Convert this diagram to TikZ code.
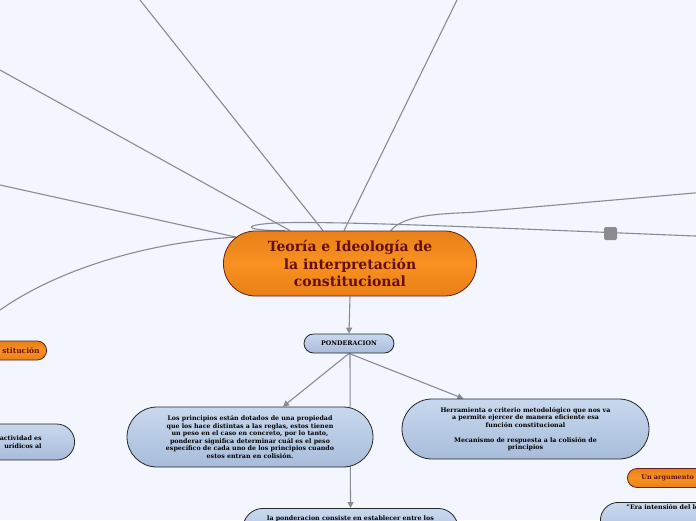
\documentclass[tikz,border=0pt]{standalone}
\usepackage{fontspec}
\setmainfont{DejaVu Serif}
\usetikzlibrary{arrows.meta,calc,backgrounds}
\definecolor{BackClr}{RGB}{243,246,254}
\definecolor{MainClr}{RGB}{248,145,32}
\definecolor{MainTop}{RGB}{232,128,24}
\definecolor{MainLine}{RGB}{105,28,28}
\definecolor{MainText}{RGB}{100,14,14}
\definecolor{LeafTop}{RGB}{200,216,238}
\definecolor{LeafBot}{RGB}{168,188,218}
\definecolor{LinkClr}{RGB}{138,138,146}
\definecolor{KnobClr}{RGB}{140,140,144}

\begin{document}
\begin{tikzpicture}[x=1pt,y=-1pt,
  link/.style={draw=LinkClr,line width=1.1pt},
  linkarrow/.style={link,-{Triangle[length=6pt,width=6pt]}},
  mainbox/.style={draw=MainLine,line width=0.8pt,rounded corners=32pt,
    top color=MainTop,bottom color=MainTop,middle color=MainClr,
    text=MainText,font=\bfseries\fontsize{14}{17.5}\selectfont,
    align=center,inner sep=0pt},
  topicbox/.style={draw=MainLine,line width=0.8pt,rounded corners=9.5pt,
    top color=MainTop,bottom color=MainTop,middle color=MainClr,
    text=MainText,font=\bfseries\fontsize{6.5}{7.5}\selectfont,
    inner sep=0pt,minimum height=19pt},
  leafbox/.style={draw=black!85,line width=0.8pt,
    top color=LeafTop,bottom color=LeafBot,
    font=\bfseries\fontsize{6.3}{7.5}\selectfont,align=center,inner sep=0pt}]

\useasboundingbox (0,0) rectangle (696,520);

% Central topic and its first child.
\node[mainbox,minimum width=253pt,minimum height=65pt] (main) at (350,263.5)
  {Teoría e Ideología de\\la interpretación\\constitucional};
\node[leafbox,rounded corners=9.5pt,minimum width=90pt,minimum height=19pt] (pond) at (349,343.5)
  {PONDERACION};

% Children of PONDERACION.
\node[leafbox,rounded corners=30pt,minimum width=246pt,minimum height=60pt] (peso) at (250,437)
  {Los principios están dotados de una propiedad\\
   que los hace distintas a las reglas, estos tienen\\
   un peso en el caso en concreto, por lo tanto,\\
   ponderar significa determinar cuál es el peso\\
   específico de cada uno de los principios cuando\\
   estos entran en colisión.};
\node[leafbox,rounded corners=30pt,minimum width=247pt,minimum height=60pt] (herr) at (525.5,429)
  {Herramienta o criterio metodológico que nos va\\
   a permite ejercer de manera eficiente esa\\
   función constitucional\\[7.5pt]
   Mecanismo de respuesta a la colisión de\\
   principios};
\node[leafbox,rounded corners=20pt,minimum width=215pt,minimum height=40pt,
  anchor=north,text height=12pt,text depth=28pt] (cons) at (350.5,508)
  {la ponderacion consiste en establecer entre los};

% Topics cut by the edges of the page.
\node[topicbox,minimum width=120pt,anchor=east,text width=106pt,align=right,
  font=\bfseries\fontsize{7.5}{8}\selectfont] (lconst) at (47,350.5)
  {stitución};
\node[leafbox,rounded corners=18pt,minimum width=200pt,minimum height=36pt,
  anchor=east,text width=134pt,align=right] (lact) at (75,442)
  {actividad es\\urídicos al\hspace{7pt}};
\node[topicbox,minimum width=120pt,anchor=west,text width=110pt,align=left] (rarg) at (627,478)
  {\hspace{9pt}Un argumento};
\node[leafbox,rounded corners=18pt,minimum width=200pt,minimum height=40pt,
  anchor=north west,text width=190pt,align=left,text depth=30pt] (rera) at (600,502)
  {\hspace{21pt}"Era intensión del le};

% Free ends of the links that leave the page.
\coordinate (top1) at (0,70);
\coordinate (top2) at (140,0);
\coordinate (top3) at (457,0);
\coordinate (left1) at (0,185);
\coordinate (left2) at (0,310);
\coordinate (right1) at (700,192.5);
\coordinate (right2) at (700,236.2);

\begin{scope}[on background layer]
\fill[BackClr] (0,0) rectangle (696,520);

% Links of the central topic.
\draw[link] ($(main.north)+(-60,0)$) -- (top1);
\draw[link] ($(main.north)+(-27,0)$) -- (top2);
\draw[link] ($(main.north)+(-6,0)$) -- (top3);
\draw[link] ($(main.north west)+(13,6.5)$) -- (left1);
\draw[link] ($(main.north west)+(13,6.5)$) .. controls (150,242) and (60,268) .. (left2);
\draw[link] ($(main.north)+(40,1)$) .. controls (400,218) and (425,214) .. (470,212.5) -- (right1);
\draw[link] ($(main.north)+(-65,0)$) .. controls (238,231) and (238,222.5) .. (300,222.5)
  .. controls (380,222.5) and (520,229) .. (right2);

% Links of PONDERACION.
\draw[linkarrow] (main.south) -- (pond.north);
\draw[linkarrow] (pond.south) -- ($(peso.north)+(33,0)$);
\draw[linkarrow] (pond.south) -- ($(herr.north)+(-62,0)$);
\draw[linkarrow] (pond.south) ++(1,0) -- (cons.north);
\end{scope}

% Knob of a folded branch.
\node[fill=KnobClr,rounded corners=2pt,minimum size=13pt,inner sep=0pt] (knob) at (610.5,233.5) {};
\end{tikzpicture}
\end{document}
